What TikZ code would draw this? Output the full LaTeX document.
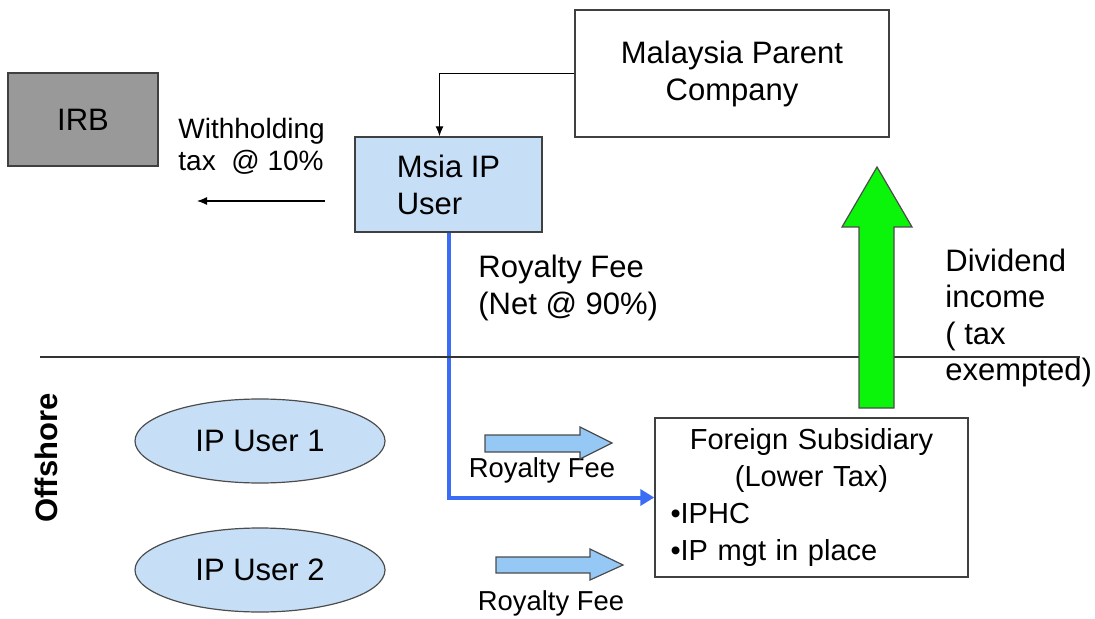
\documentclass[tikz,border=0pt]{standalone}
\usepackage{fontspec}
\setmainfont{Liberation Sans}
\usetikzlibrary{arrows.meta,shapes.geometric}

\definecolor{irbgray}{RGB}{153,153,153}
\definecolor{cloudblue}{RGB}{198,223,246}
\definecolor{arrowblue}{RGB}{150,200,245}
\definecolor{flowblue}{RGB}{59,108,245}
\definecolor{divgreen}{RGB}{10,245,10}

\begin{document}
\begin{tikzpicture}[x=0.5pt,y=-0.5pt,
    every node/.style={font=\fontsize{15.5}{18.5}\selectfont},
    box/.style={rectangle,draw=black!75,line width=0.7pt,inner sep=0pt},
    userbox/.style={box,fill=cloudblue},
    cloud/.style={ellipse,draw=black!70,line width=0.6pt,fill=cloudblue,inner sep=0pt,
                  minimum width=125pt,minimum height=42pt},
    label/.style={align=left,inner sep=0pt,anchor=west},
    fee/.style={inner sep=0pt,font=\fontsize{13.7}{16}\selectfont},
    fat/.style={draw=black!70,line width=0.6pt}]
  \useasboundingbox (0,0) rectangle (1095,619);

  % boxes
  \node[box,fill=irbgray,minimum width=75pt,minimum height=46.5pt] (irb) at (83,119.5) {IRB};
  \node[userbox,align=left,minimum width=93.5pt,minimum height=47.5pt] (msia) at (448.5,184.5) {Msia IP\\User};
  \node[box,align=center,minimum width=157pt,minimum height=63.5pt] (parent) at (732,73.5) {Malaysia Parent\\Company};
  \node[box,minimum width=156.5pt,minimum height=79.5pt,text width=141pt,
        font=\fontsize{14.5}{18.5}\selectfont] (foreign) at (811.5,497.5)
       {\centering Foreign Subsidiary\\(Lower Tax)\par\raggedright •IPHC\\•IP mgt in place};
  \node[cloud] (ip1) at (260,441) {IP User 1};
  \node[cloud] (ip2) at (260,570) {IP User 2};

  % labels
  \node[rotate=90,font=\bfseries\fontsize{15.5}{18.5}\selectfont] (offshore) at (46,458) {Offshore};
  \node[label,font=\fontsize{14}{16}\selectfont] (wht) at (178,146) {Withholding\\tax\ \ @ 10\%};
  \node[label] (net) at (478,288) {Royalty Fee\\(Net @ 90\%)};
  \node[label,font=\fontsize{15.5}{18.2}\selectfont] (div) at (945,318) {Dividend\\income\\( tax\\exempted)};
  \node[fee] (fee1) at (542,470) {Royalty Fee};
  \node[fee] (fee2) at (551,603) {Royalty Fee};

  % connectors
  \coordinate (wtail) at (325,201);
  \coordinate (whead) at (197,201);
  \draw[-{Latex[length=5pt,width=4pt]},line width=0.6pt] (parent.west) -| ([xshift=-4.5pt]msia.north);
  \draw[-{Latex[length=5pt,width=4pt]},line width=0.6pt] (wtail) -- (whead);
  \draw[flowblue,line width=2pt,-{Triangle[length=7pt,width=8pt]}] (msia.south) |- (foreign.west);

  % offshore line
  \draw[line width=0.6pt,black!80] (40,357) -- (1080,357);

  % block arrows
  \draw[fat,fill=divgreen] (859,408) -- (859,227) -- (842,227) -- (877,167)
       -- (912,227) -- (894,227) -- (894,408) -- cycle;
  \draw[fat,fill=arrowblue] (485,435) -- (580,435) -- (580,427) -- (612,443)
       -- (580,459) -- (580,452) -- (485,452) -- cycle;
  \draw[fat,fill=arrowblue] (496,557) -- (590,557) -- (590,549) -- (623,565)
       -- (590,580) -- (590,573) -- (496,573) -- cycle;
\end{tikzpicture}
\end{document}
